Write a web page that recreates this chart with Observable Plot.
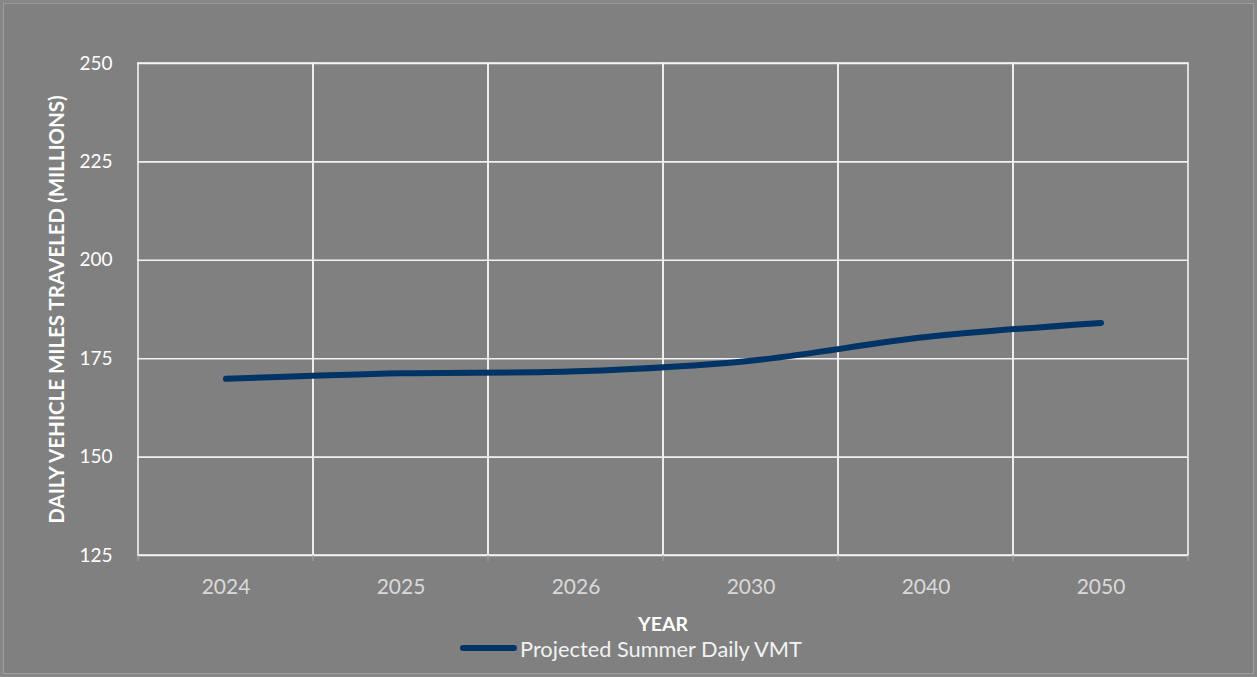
<!DOCTYPE html>
<html>
<head>
<meta charset="utf-8">
<script src="https://cdn.jsdelivr.net/npm/d3@7"></script>
<script src="https://cdn.jsdelivr.net/npm/@observablehq/plot@0.6"></script>
<style>
  html, body { margin: 0; padding: 0; background: #808080; width: 1257px; height: 677px; overflow: hidden; }
  #frame { position: absolute; left: 3px; top: 3px; right: 3px; bottom: 3px; border: 1px solid #9c9c9c; pointer-events: none; }
  #outer { position: absolute; left: 0; top: 0; right: 0; bottom: 0; border: 3px solid #878787; box-sizing: border-box; pointer-events: none; }
  #chart { position: absolute; left: 0; top: 0; }
  #legend { position: absolute; left: 0; top: 637px; width: 1257px; height: 22px; display: flex; justify-content: center; align-items: center; font-family: Lato, "Open Sans", sans-serif; font-size: 21.8px; color: #f2f2f2; }
  #legend .sw { width: 57px; height: 6px; border-radius: 3px; background: #003366; margin-right: 3px; }
  #legend .inner { display: flex; align-items: center; margin-left: 5px; }
</style>
</head>
<body>
<div id="chart"></div>
<div id="legend"><div class="inner"><div class="sw"></div><span>Projected Summer Daily VMT</span></div></div>
<div id="outer"></div>
<div id="frame"></div>
<script>
const years = ["2024", "2025", "2026", "2030", "2040", "2050"];
const vmt = [169.9, 171.3, 171.8, 174.5, 180.5, 184.1];
const yTicks = [125, 150, 175, 200, 225, 250];
const seriesName = "Projected Summer Daily VMT";
const xTitle = "YEAR";
const yTitle = "DAILY VEHICLE MILES TRAVELED (MILLIONS)";

const data = years.map((y, i) => ({year: y, value: vmt[i]}));

function boundaryTicks(index, scales, values, dimensions) {
  const x = scales.x;
  const bw = typeof x.bandwidth === "function" ? x.bandwidth() : (scales.scales && scales.scales.x ? scales.scales.x.bandwidth : 0);
  const y0 = dimensions.height - dimensions.marginBottom;
  const edges = years.map(d => x(d)).concat([x(years[years.length - 1]) + bw]);
  const g = d3.create("svg:g");
  g.selectAll("line").data(edges).join("line")
    .attr("x1", d => d).attr("x2", d => d)
    .attr("y1", y0).attr("y2", y0 + 6)
    .attr("stroke", "#a6a6a6").attr("stroke-width", 1);
  return g.node();
}

const chart = Plot.plot({
  width: 1257,
  height: 640,
  marginLeft: 137,
  marginRight: 69,
  marginTop: 63,
  marginBottom: 85,
  style: {background: "transparent", color: "white", fontFamily: "Lato, 'Open Sans', sans-serif", fontSize: "17px"},
  x: {type: "band", domain: years, padding: 0},
  y: {domain: [125, 250], ticks: yTicks},
  marks: [
    Plot.ruleY(yTicks, {stroke: "#f2f2f2", strokeWidth: 1.6}),
    Plot.barY(years, {x: d => d, y1: 125, y2: 250, fill: "none", stroke: "#f2f2f2", strokeWidth: 1.6}),
    boundaryTicks,
    Plot.axisY({ticks: yTicks, tickSize: 0, tickPadding: 25, fill: "white", fontSize: 19, label: null}),
    Plot.axisX({tickSize: 0, tickPadding: 24, fill: "#d9d9d9", fontSize: 21, label: null}),
    Plot.text([yTitle], {frameAnchor: "left", dx: -80, rotate: -90, textAnchor: "middle", text: d => d, fill: "white", fontWeight: "bold", fontSize: 20.5}),
    Plot.text([xTitle], {frameAnchor: "bottom", dy: 75, textAnchor: "middle", text: d => d, fill: "white", fontWeight: "bold", fontSize: 19.5}),
    Plot.line(data, {x: "year", y: "value", stroke: "#003366", strokeWidth: 6, strokeLinecap: "round", strokeLinejoin: "round", curve: "catmull-rom"})
  ]
});
document.getElementById("chart").appendChild(chart);
</script>
</body>
</html>
